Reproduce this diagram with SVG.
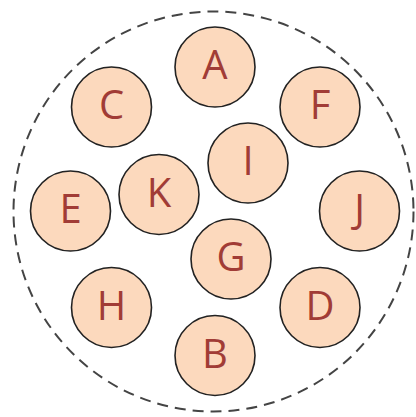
<svg xmlns="http://www.w3.org/2000/svg" width="416" height="417" viewBox="0 0 416 417">
<style>
.n circle{fill:#fcd9bd;stroke:#222;stroke-width:1.6}
.n text{font-family:"Open Sans","Liberation Sans",sans-serif;font-size:40px;fill:#a13c36;text-anchor:middle}
.outer{fill:none;stroke:#444;stroke-width:2;stroke-dasharray:11 7}
</style>
<rect width="416" height="417" fill="#fff"/>
<circle class="outer" cx="213.5" cy="211.5" r="200"/>
<g id="connectors"></g>
<g id="A" class="n"><circle cx="215" cy="67" r="40"/><text x="215" y="79">A</text></g>
<g id="C" class="n"><circle cx="111.5" cy="107" r="40"/><text x="111.5" y="119">C</text></g>
<g id="F" class="n"><circle cx="320" cy="107" r="40"/><text x="320" y="119">F</text></g>
<g id="I" class="n"><circle cx="248" cy="163" r="40"/><text x="248" y="175">I</text></g>
<g id="K" class="n"><circle cx="159" cy="194.5" r="40"/><text x="159" y="206.5">K</text></g>
<g id="E" class="n"><circle cx="70.5" cy="211" r="40"/><text x="70.5" y="223">E</text></g>
<g id="J" class="n"><circle cx="359.5" cy="211" r="40"/><text x="359.5" y="223">J</text></g>
<g id="G" class="n"><circle cx="231" cy="259" r="40"/><text x="231" y="271">G</text></g>
<g id="H" class="n"><circle cx="111.5" cy="307.5" r="40"/><text x="111.5" y="319.5">H</text></g>
<g id="D" class="n"><circle cx="320" cy="307.5" r="40"/><text x="320" y="319.5">D</text></g>
<g id="B" class="n"><circle cx="215" cy="355.5" r="40"/><text x="215" y="367.5">B</text></g>
</svg>
